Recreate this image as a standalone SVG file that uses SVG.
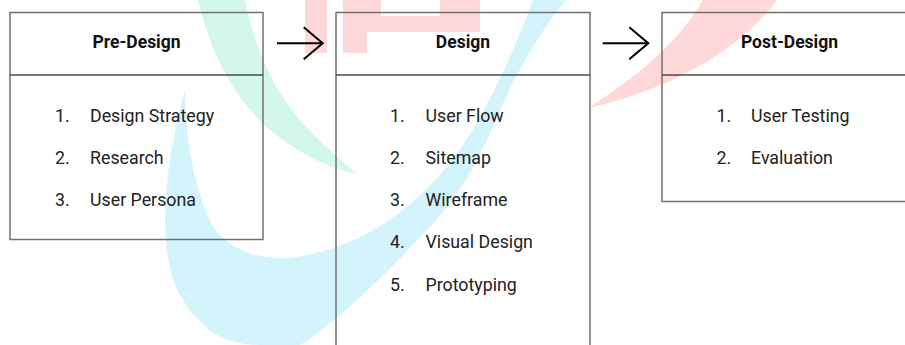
<svg xmlns="http://www.w3.org/2000/svg" width="905" height="345" viewBox="0 0 905 345">
  <defs>
    <style>
      .box { fill: none; stroke: #707070; stroke-width: 1.5; }
      .div { stroke: #4a4a4a; stroke-width: 1.5; }
      .hdr { font-family: Roboto, "Liberation Sans", sans-serif; font-size: 17.5px; font-weight: bold; fill: #111; text-anchor: middle; }
      .item { font-family: Roboto, "Liberation Sans", sans-serif; font-size: 17.8px; fill: #222; }
      .conn { stroke: #000; stroke-width: 2; fill: none; }
    </style>
    <marker id="chev" markerUnits="userSpaceOnUse" viewBox="-22 -18 24 36" markerWidth="24" markerHeight="36" refX="0" refY="0" orient="auto">
      <path d="M-19,-16 L0,0 L-19,16" fill="none" stroke="#000" stroke-width="2" stroke-linejoin="miter"/>
    </marker>
  </defs>

  <rect width="905" height="345" fill="#fff"/>

  <!-- faint background watermark shapes -->
  <g id="watermark">
    <path d="M198,0 C212,60 240,105 270,130 C300,155 330,168 357,174 C330,150 300,125 285,100 C265,70 252,35 245,0 Z" fill="#d3f7ea"/>
    <path d="M185,90 C165,160 155,250 180,295 C200,330 225,345 260,345 L300,345 C340,320 390,270 427,230 C460,195 480,160 500,110 C520,65 545,25 566,0 L533,0 C510,60 480,130 440,175 C400,220 350,250 290,258 C250,260 225,245 212,225 C195,190 185,140 185,90 Z" fill="#d3f3fd"/>
    <rect x="305" y="0" width="22" height="53" fill="#ffd9d9"/>
    <path d="M343,0 L480,0 L480,32 L367,32 L367,53 L343,53 Z M381,0 L381,16 L440,16 L440,0 Z" fill="#ffd9d9" fill-rule="evenodd"/>
    <path d="M703,0 L777,0 C740,50 670,90 588,108 C640,75 680,40 703,0 Z" fill="#ffd9d9"/>
  </g>

  <g id="connectors">
    <line class="conn" x1="277" y1="43.3" x2="322.7" y2="43.3" marker-end="url(#chev)"/>
    <line class="conn" x1="602.7" y1="43.3" x2="648.3" y2="43.3" marker-end="url(#chev)"/>
  </g>

  <g id="pre-design">
    <rect class="box" x="10" y="12.5" width="253" height="227"/>
    <line class="div" x1="10" y1="75" x2="263" y2="75"/>
    <text class="hdr" x="136.5" y="48">Pre-Design</text>
    <text class="item" x="55" y="121.5">1.</text><text class="item" x="90" y="121.5">Design Strategy</text>
    <text class="item" x="55" y="163.8">2.</text><text class="item" x="90" y="163.8">Research</text>
    <text class="item" x="55" y="206.1">3.</text><text class="item" x="90" y="206.1">User Persona</text>
  </g>

  <g id="design">
    <rect class="box" x="336" y="12.5" width="254" height="345"/>
    <line class="div" x1="336" y1="75" x2="590" y2="75"/>
    <text class="hdr" x="463" y="48">Design</text>
    <text class="item" x="390" y="121.5">1.</text><text class="item" x="425.5" y="121.5">User Flow</text>
    <text class="item" x="390" y="163.8">2.</text><text class="item" x="425.5" y="163.8">Sitemap</text>
    <text class="item" x="390" y="206.1">3.</text><text class="item" x="425.5" y="206.1">Wireframe</text>
    <text class="item" x="390" y="248.4">4.</text><text class="item" x="425.5" y="248.4">Visual Design</text>
    <text class="item" x="390" y="290.7">5.</text><text class="item" x="425.5" y="290.7">Prototyping</text>
  </g>

  <g id="post-design">
    <rect class="box" x="662" y="12.5" width="255" height="189"/>
    <line class="div" x1="662" y1="75" x2="917" y2="75"/>
    <text class="hdr" x="789.5" y="48">Post-Design</text>
    <text class="item" x="716.5" y="121.5">1.</text><text class="item" x="751" y="121.5">User Testing</text>
    <text class="item" x="716.5" y="163.8">2.</text><text class="item" x="751" y="163.8">Evaluation</text>
  </g>
</svg>
